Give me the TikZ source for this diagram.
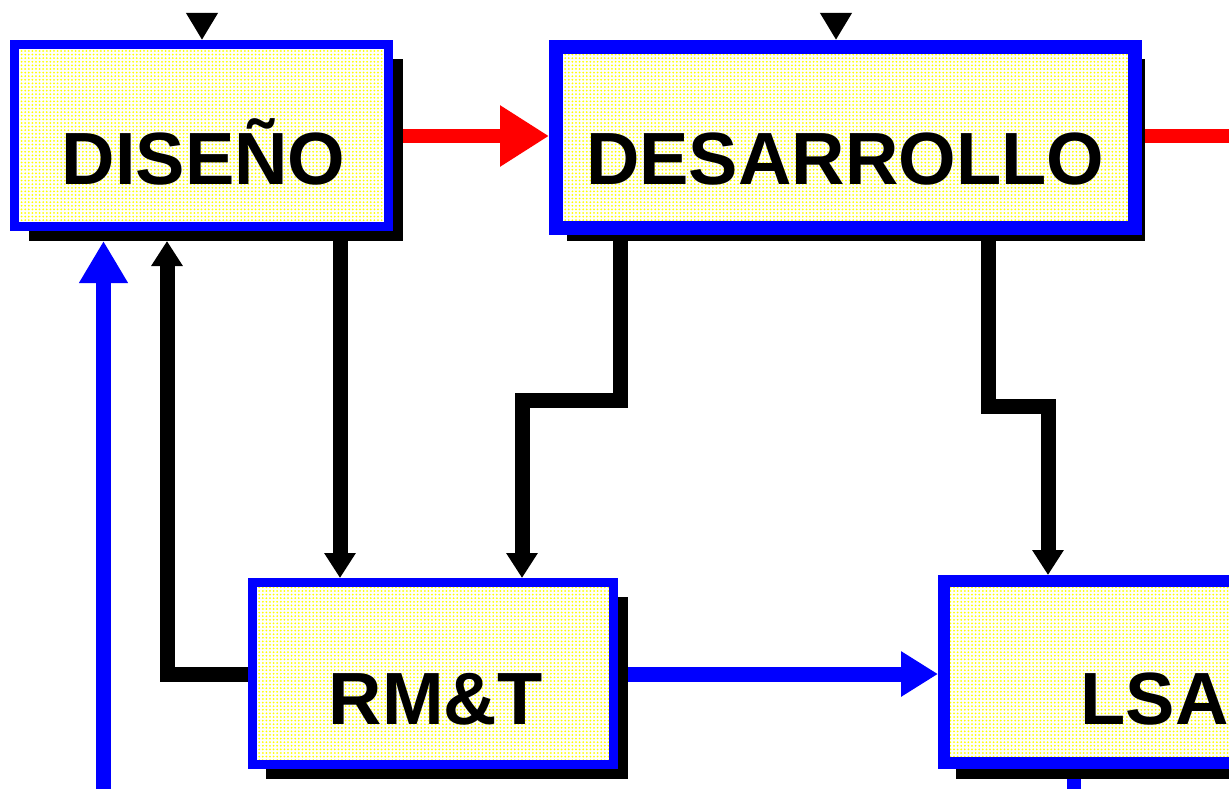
\documentclass[tikz,border=0pt]{standalone}
\usepackage{fontspec}
\setmainfont{Liberation Sans}
\usetikzlibrary{arrows.meta,patterns.meta}
\pgfdeclarelayer{bg}
\pgfsetlayers{bg,main}
\begin{document}
\begin{tikzpicture}[x=1pt,y=-1pt,
  box/.style={rectangle, draw=blue, preaction={fill=white},
    pattern={Dots[distance=3.6pt,radius=1pt]}, pattern color=yellow, inner sep=0pt},
  shadowbox/.style={rectangle, fill=black, inner sep=0pt, outer sep=0pt},
  lbl/.style={font=\fontsize{74}{80}\selectfont\bfseries, anchor=base, inner sep=0pt},
  blk/.style={draw=black, line width=15pt, line join=miter, -{Triangle[length=25pt,width=30pt]}},
  topin/.style={draw=black, line width=7pt, -{Triangle[length=27pt,width=30pt]}},
  redln/.style={draw=red, line width=14pt},
  bluln/.style={draw=blue, line width=15pt},
]
\useasboundingbox (0,0) rectangle (1229,789);
\clip (0,0) rectangle (1229,789);
% shadows
\node[shadowbox, minimum width=374pt, minimum height=182pt] (DISs) at (216,150) {};
\node[shadowbox, minimum width=578pt, minimum height=182pt] (DESs) at (856,150) {};
\node[shadowbox, minimum width=362pt, minimum height=182pt] (RMTs) at (447,688) {};
\node[shadowbox, minimum width=433pt, minimum height=185pt] (LSAs) at (1172.5,686.5) {};
% boxes
\node[box, line width=9pt, minimum width=374pt, minimum height=182pt] (DIS) at (201.5,135.5) {};
\node[box, line width=14pt, minimum width=579pt, minimum height=181pt] (DES) at (845.5,137.5) {};
\node[box, line width=9pt, minimum width=361pt, minimum height=182pt] (RMT) at (433,673.5) {};
\node[box, line width=12pt, minimum width=421pt, minimum height=182pt] (LSA) at (1154.5,672) {};
% labels
\node[lbl] (tDIS) at (203.5,185) {DISEÑO};
\node[lbl] (tDES) at (845,185) {DESARROLLO};
\node[lbl] (tRMT) at (435.5,724) {RM\&T};
\node[lbl] (tLSA) at (1154.5,724) {LSA};
% free ends
\coordinate (inDIS) at (202,13);
\coordinate (inDES) at (836,13);
\coordinate (redout) at (1235,136);
\coordinate (bluein) at (103.5,800);
\coordinate (lsaout) at (1074,800);
\begin{pgfonlayer}{bg}
\draw[topin] (inDIS) -- (inDIS |- DIS.north);
\draw[topin] (inDES) -- (inDES |- DES.north);
\draw[redln, -{Triangle[length=49pt,width=58pt]}] (DIS.east |- redout) -- (DES.west |- redout);
\draw[redln] (DES.east |- redout) -- (redout);
\draw[blk] (340,0 |- DIS.south) -- (340,0 |- RMT.north);
\draw[blk] (RMT.west |- 0,674) -| (167,0 |- DISs.south);
\draw[bluln, -{Triangle[length=42pt,width=46pt]}] (bluein) -- (bluein |- DISs.south);
\draw[blk] (620,0 |- DES.south) -- (620,400) -- (522,400) -- (522,0 |- RMT.north);
\draw[blk] (988,0 |- DES.south) -- (988,406) -- (1048,406) -- (1048,0 |- LSA.north);
\draw[bluln, -{Triangle[length=37pt,width=43pt]}] (RMT.east |- 0,674) -- (LSA.west |- 0,674);
\draw[draw=blue, line width=14pt] (lsaout |- LSA.south) -- (lsaout);
\end{pgfonlayer}
\end{tikzpicture}
\end{document}
